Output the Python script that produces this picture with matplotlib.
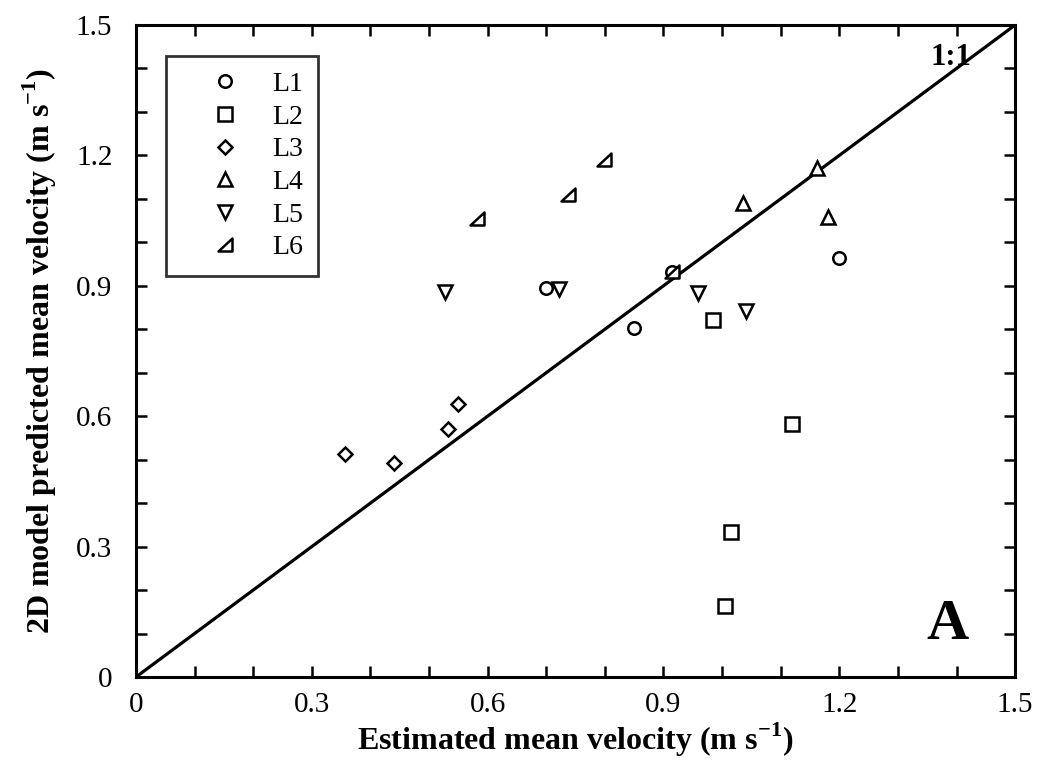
import numpy as np
import matplotlib
matplotlib.use('Agg')
import matplotlib.pyplot as plt
from matplotlib.path import Path
from matplotlib.ticker import MultipleLocator, FuncFormatter

plt.rcParams['font.family'] = ['Liberation Serif', 'DejaVu Serif']
plt.rcParams['mathtext.fontset'] = 'custom'
plt.rcParams['mathtext.rm'] = 'Liberation Serif'
plt.rcParams['mathtext.bf'] = 'Liberation Serif:bold'

# data
l1_x = [0.70, 0.85, 0.915, 1.20]
l1_y = [0.895, 0.803, 0.932, 0.963]
l2_x = [0.985, 1.12, 1.015, 1.005]
l2_y = [0.821, 0.582, 0.334, 0.163]
l3_x = [0.357, 0.44, 0.532, 0.55]
l3_y = [0.513, 0.492, 0.571, 0.628]
l4_x = [1.036, 1.162, 1.181]
l4_y = [1.090, 1.171, 1.058]
l5_x = [0.527, 0.722, 0.959, 1.041]
l5_y = [0.886, 0.893, 0.883, 0.842]
l6_x = [0.582, 0.737, 0.799, 0.915]
l6_y = [1.054, 1.109, 1.189, 0.932]

# right triangle marker for L6
tri = Path([(-1, -0.8), (1, -0.8), (1, 1.0), (-1, -0.8)],
           [Path.MOVETO, Path.LINETO, Path.LINETO, Path.CLOSEPOLY])

fig = plt.figure(figsize=(10.38, 7.73), dpi=100)
ax = fig.add_axes([0.131, 0.1242, 0.847, 0.8435])

ax.plot([0, 1.5], [0, 1.5], color='black', lw=2.3, zorder=1)

style = dict(linestyle='none', mfc='white', mec='black', mew=1.8, zorder=3)
ax.plot(l1_x, l1_y, marker='o', ms=9, label='L1', **style)
ax.plot(l2_x, l2_y, marker='s', ms=9.5, label='L2', **style)
ax.plot(l3_x, l3_y, marker='D', ms=7, label='L3', **style)
ax.plot(l4_x, l4_y, marker='^', ms=10, label='L4', **style)
ax.plot(l5_x, l5_y, marker='v', ms=10, label='L5', **style)
ax.plot(l6_x, l6_y, marker=tri, ms=10, label='L6', **style)

ax.set_xlim(0, 1.5)
ax.set_ylim(0, 1.5)
ax.xaxis.set_major_locator(MultipleLocator(0.1))
ax.yaxis.set_major_locator(MultipleLocator(0.1))

def fmt(v, pos):
    k = int(round(v * 10))
    if k % 3 != 0:
        return ''
    return '0' if k == 0 else f'{v:.1f}'

ax.xaxis.set_major_formatter(FuncFormatter(fmt))
ax.yaxis.set_major_formatter(FuncFormatter(fmt))
ax.tick_params(direction='in', length=8, width=1.8, top=True, right=True,
               labelsize=21)
ax.tick_params(axis='x', pad=11)
ax.tick_params(axis='y', pad=17)
for s in ax.spines.values():
    s.set_linewidth(2.2)

ax.set_xlabel('Estimated mean velocity (m s$^{\\mathbf{-1}}$)',
              fontsize=23, fontweight='bold', labelpad=2)
ax.set_ylabel('2D model predicted mean velocity (m s$^{\\mathbf{-1}}$)',
              fontsize=23, fontweight='bold', labelpad=12)

ax.text(1.425, 1.425, '1:1', fontsize=22, fontweight='bold', ha='right', va='center')
ax.text(1.42, 0.12, 'A', fontsize=42, fontweight='bold', ha='right', va='center')

leg = ax.legend(loc='upper left', bbox_to_anchor=(0.034, 0.952), fontsize=20,
                frameon=True, fancybox=False, edgecolor='black', handlelength=3.17,
                handletextpad=0.1, borderpad=0.55, labelspacing=0.26,
                borderaxespad=0)
leg.get_frame().set_linewidth(2.0)

fig.savefig('out.png', dpi=100, facecolor='white')
